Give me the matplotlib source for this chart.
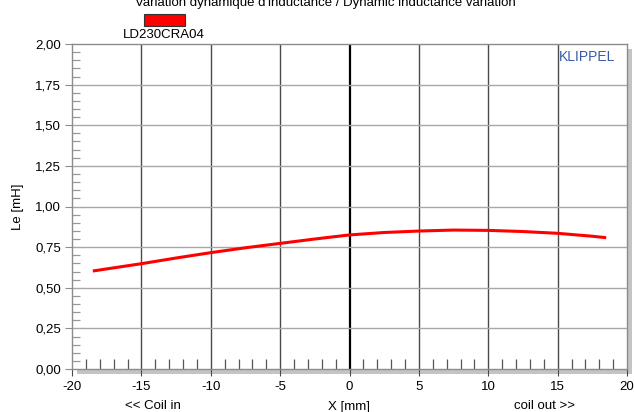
import matplotlib
matplotlib.use("Agg")
import matplotlib.pyplot as plt
from matplotlib.patches import Rectangle
from matplotlib.ticker import MultipleLocator, FuncFormatter

plt.rcParams['font.family'] = ['Liberation Sans', 'DejaVu Sans']
plt.rcParams['axes.unicode_minus'] = False

# Data
x_mm = [-18.5, -17.5, -15, -12.5, -10, -7.5, -5, -2.5, 0, 2.5, 5, 7.5, 10, 12.5, 15, 17.5, 18.5]
le_mH = [0.603, 0.616, 0.648, 0.683, 0.716, 0.746, 0.773, 0.800, 0.825, 0.840, 0.849,
         0.855, 0.853, 0.846, 0.835, 0.817, 0.808]
series_name = "LD230CRA04"
title = "Variation dynamique d'inductance / Dynamic inductance variation"
x_ticks = [-20, -15, -10, -5, 0, 5, 10, 15, 20]
y_ticks = [0.0, 0.25, 0.5, 0.75, 1.0, 1.25, 1.5, 1.75, 2.0]

W, H = 634, 412
fig = plt.figure(figsize=(W / 100, H / 100), dpi=100)
L, R, B, T = 72 / W, 627 / W, (H - 369) / H, (H - 44) / H
ax = fig.add_axes([L, B, R - L, T - B])

# drop shadow
sh = Rectangle((L + 5 / W, B - 5 / H), R - L, T - B, transform=fig.transFigure,
               facecolor='#c4c4c4', edgecolor='none', zorder=0)
fig.patches.append(sh)
ax.set_zorder(1)
ax.set_facecolor('white')

ax.set_xlim(-20, 20)
ax.set_ylim(0, 2.0)
ax.set_xticks(x_ticks)
ax.set_yticks(y_ticks)
ax.xaxis.set_major_formatter(FuncFormatter(lambda v, p: f"{v:.0f}"))
ax.yaxis.set_major_formatter(FuncFormatter(lambda v, p: f"{v:.2f}".replace('.', ',')))
ax.xaxis.set_minor_locator(MultipleLocator(1))
ax.yaxis.set_minor_locator(MultipleLocator(0.05))

for v in x_ticks[1:-1]:
    if v == 0:
        ax.axvline(v, color='black', lw=1.6, zorder=1)
    else:
        ax.axvline(v, color='#4a4a4a', lw=1.0, zorder=1)
for v in y_ticks[1:-1]:
    ax.axhline(v, color='#a8a8a8', lw=1.0, zorder=1)

ax.plot(x_mm, le_mH, color='#ff0000', lw=2.2, zorder=3, solid_capstyle='butt')

for s in ax.spines.values():
    s.set_color('#8c8c8c')
    s.set_linewidth(1.0)

ax.tick_params(axis='both', which='major', labelsize=9.5, color='#8c8c8c', length=5,
               direction='out', pad=3)
ax.tick_params(axis='x', which='minor', direction='in', length=7, color='#555555', width=0.9)
ax.tick_params(axis='y', which='minor', direction='in', length=6, color='#999999', width=0.9)
ax.tick_params(axis='x', which='major', color='#4a4a4a', pad=4)

ax.set_ylabel("Le [mH]", fontsize=9.5, labelpad=8)

fig.text(325 / W, 1 - 3 / H, title, ha='center', va='center', fontsize=9.5)
leg = Rectangle((144 / W, 1 - 26 / H), 41 / W, 12 / H, transform=fig.transFigure,
                facecolor='#ff0000', edgecolor='#333333', lw=0.8)
fig.patches.append(leg)
fig.text(164 / W, 1 - 35 / H, series_name, ha='center', va='center', fontsize=9.5)
fig.text(587 / W, 1 - 57 / H, "KLIPPEL", ha='center', va='center', fontsize=10, color='#3a5aa8')

fig.text(153 / W, 1 - 406 / H, "<< Coil in", ha='center', va='center', fontsize=9.5)
fig.text(349 / W, 1 - 407 / H, "X [mm]", ha='center', va='center', fontsize=9.5)
fig.text(545 / W, 1 - 406 / H, "coil out >>", ha='center', va='center', fontsize=9.5)

fig.savefig("out.png", dpi=100)
